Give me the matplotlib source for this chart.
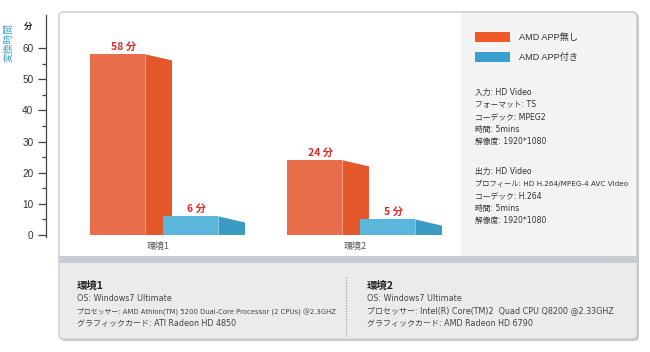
import matplotlib
matplotlib.use("Agg")
import matplotlib.pyplot as plt
from matplotlib.patches import Rectangle, Polygon, FancyBboxPatch
from matplotlib.transforms import IdentityTransform
from matplotlib.lines import Line2D

# ---------------- data ----------------
categories = ['環境1', '環境2']
series_names = ['AMD APP無し', 'AMD APP付き']
without_app = [58, 24]
with_app = [6, 5]
y_ticks = [0, 10, 20, 30, 40, 50, 60]
y_unit = '分'
y_title = '変換時間'

input_spec = ['入力: HD Video', 'フォーマット: TS', 'コーデック: MPEG2',
              '時間: 5mins', '解像度: 1920*1080']
output_spec = ['出力: HD Video', 'プロフィール: HD H.264/MPEG-4 AVC Video',
               'コーデック: H.264', '時間: 5mins', '解像度: 1920*1080']
env1_title = '環境1'
env1_spec = ['OS: Windows7 Ultimate',
             'プロセッサー: AMD Athlon(TM) 5200 Dual-Core Processor (2 CPUs) @2.3GHZ',
             'グラフィックカード: ATI Radeon HD 4850']
env2_title = '環境2'
env2_spec = ['OS: Windows7 Ultimate',
             'プロセッサー: Intel(R) Core(TM)2  Quad CPU Q8200 @2.33GHZ',
             'グラフィックカード: AMD Radeon HD 6790']

# ---------------- style ----------------
W, H = 650, 352
JP = ['Noto Sans CJK JP', 'DejaVu Sans']
SMALL = ['DejaVu Sans', 'Noto Sans CJK JP']
ARIAL = ['Liberation Sans', 'Noto Sans CJK JP']
plt.rcParams['font.family'] = JP

orange_front, orange_side = '#E86E4B', '#E2582A'
blue_front, blue_side = '#5AB6DA', '#3A9CC2'
legend_colors = ['#F05A28', '#3A9FCC']
label_red = '#E02A2A'

fig = plt.figure(figsize=(W / 100, H / 100), dpi=100)
fig.patch.set_facecolor('white')


def box(x0, y0, x1, y1):
    """pixel box (top-left origin) -> display coords"""
    return (x0, H - y1), x1 - x0, y1 - y0


def fx(x):
    return x / W


def fy(y):
    return 1 - y / H


# ---------------- background panels ----------------
(sx, sy), sw, sh = box(60, 13, 639, 341)
shadow = FancyBboxPatch((sx, sy), sw, sh, boxstyle='round,pad=0,rounding_size=5',
                        transform=IdentityTransform(), facecolor='#C4C4C4',
                        edgecolor='none', zorder=-10)
fig.add_artist(shadow)
(ox, oy), ow, oh = box(59, 12, 637, 339)
outer = FancyBboxPatch((ox, oy), ow, oh, boxstyle='round,pad=0,rounding_size=5',
                       transform=IdentityTransform(), facecolor='#F3F3F3',
                       edgecolor='#D2D2D2', linewidth=1.0, zorder=-9)
fig.add_artist(outer)
for (x0, y0, x1, y1, c) in [(59, 12, 461, 256, 'white'),
                            (59, 256, 637, 263, '#C8CCD5'),
                            (59, 263, 637, 339, '#EBEBEB')]:
    (rx, ry), rw, rh = box(x0, y0, x1, y1)
    r = Rectangle((rx, ry), rw, rh, transform=IdentityTransform(),
                  facecolor=c, edgecolor='none', zorder=-8)
    fig.add_artist(r)
    r.set_clip_path(outer)
fig.add_artist(FancyBboxPatch((ox, oy), ow, oh, boxstyle='round,pad=0,rounding_size=5',
                              transform=IdentityTransform(), facecolor='none',
                              edgecolor='#D0D0D0', linewidth=1.0, zorder=-7))
fig.add_artist(Line2D([fx(346), fx(346)], [fy(277), fy(336)], color='#8A8A8A',
                      linewidth=0.8, linestyle=(0, (1, 1.5)), zorder=-6))

# ---------------- chart axes ----------------
# pixel geometry: value 0 at y=235, value 60 at y=48 ; axes from y=15 to y=237
px_per_unit = (235 - 48) / 60
ymin = -(237 - 235) / px_per_unit
ymax = (235 - 15) / px_per_unit
ax_left, ax_right = 46, 460
group_px = 197
center0 = 158
xmin = (ax_left - center0) / group_px
xmax = (ax_right - center0) / group_px
ax = fig.add_axes([fx(ax_left), fy(237), (ax_right - ax_left) / W, (237 - 15) / H])
ax.set_zorder(2)
ax.patch.set_alpha(0)
ax.set_xlim(xmin, xmax)
ax.set_ylim(ymin, ymax)
for s in ['top', 'right', 'bottom']:
    ax.spines[s].set_visible(False)
ax.spines['left'].set_color('#444444')
ax.spines['left'].set_linewidth(0.9)
ax.set_yticks(y_ticks)
ax.set_yticklabels([str(t) for t in y_ticks], fontsize=7.2, family=ARIAL, color='#333333')
ax.set_yticks([t + 5 for t in y_ticks[:-1]], minor=True)
ax.tick_params(axis='y', which='major', length=6, width=0.9, color='#444444', pad=3)
ax.tick_params(axis='y', which='minor', length=3, width=0.9, color='#444444')
ax.set_xticks(range(len(categories)))
ax.set_xticklabels(categories, fontsize=6.5, color='#555555')
ax.tick_params(axis='x', length=0, pad=3.5)

front_w = 55 / group_px
depth = 27 / group_px
drop = 6.2 / px_per_unit
offsets = [(90 - center0) / group_px, (163 - center0) / group_px]
series = [(without_app, orange_front, orange_side), (with_app, blue_front, blue_side)]

for si, (vals, cf, cs) in enumerate(series):
    for gi, v in enumerate(vals):
        x0 = gi + offsets[si]
        x1 = x0 + front_w
        ax.add_patch(Polygon([(x1, 0), (x1, v), (x1 + depth, v - drop), (x1 + depth, 0)],
                             closed=True, facecolor=cs, edgecolor='none', zorder=3 + si))
        ax.add_patch(Rectangle((x0, 0), front_w, v, facecolor=cf, edgecolor='none',
                               zorder=3 + si))
        ax.plot([x1, x1], [0, v], color='white', linewidth=0.5, alpha=0.6, zorder=3.5 + si)
        ax.annotate(f'{v} {y_unit}', xy=(x0 + front_w / 2 + 6 / group_px, v),
                    xytext=(0, 2), textcoords='offset points', ha='center', va='bottom',
                    fontsize=7.5, fontweight='bold', color=label_red, zorder=6)

# axis titles
fig.text(fx(28), fy(27), y_unit, fontsize=6, fontweight='bold', color='#222222',
         ha='center', va='center')
fig.text(fx(9), fy(42), y_title, fontsize=7, color='#3A9FCC', rotation=90,
         ha='center', va='center')

# ---------------- right panel ----------------
for i, (name, c) in enumerate(zip(series_names, legend_colors)):
    top = 32 + i * 20
    (lx, ly), lw, lh = box(475, top, 510, top + 10)
    fig.add_artist(Rectangle((lx, ly), lw, lh, transform=IdentityTransform(),
                             facecolor=c, edgecolor='none'))
    fig.text(fx(519), fy(top + 5), name, fontsize=6.6, family=ARIAL, color='#333333',
             ha='left', va='center')


def spec_size(line):
    return 5.2 if len(line) > 25 else 5.6


for i, line in enumerate(input_spec):
    fig.text(fx(475), fy(92 + i * 12.4), line, fontsize=spec_size(line),
             family=SMALL, color='#333333', ha='left', va='center')
for i, line in enumerate(output_spec):
    fig.text(fx(475), fy(171 + i * 12.4), line, fontsize=spec_size(line),
             family=SMALL, color='#333333', ha='left', va='center')

# ---------------- bottom panel ----------------
for x, title, spec in [(77, env1_title, env1_spec), (367, env2_title, env2_spec)]:
    fig.text(fx(x), fy(286), title, fontsize=7.5, fontweight='bold', color='#222222',
             ha='left', va='center')
    for i, line in enumerate(spec):
        size = 4.95 if len(line) > 60 else 5.75
        fig.text(fx(x), fy(298.5 + i * 12.5), line, fontsize=size, family=SMALL,
                 color='#444444', ha='left', va='center')

fig.savefig('out.png', dpi=100)
